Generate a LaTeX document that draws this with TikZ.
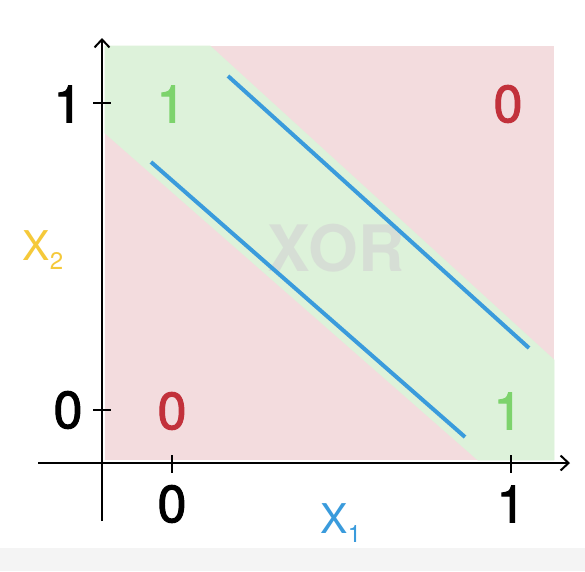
\documentclass[tikz,border=0pt]{standalone}
\usepackage{fontspec}
\setmainfont{TeX Gyre Heros}
\newfontfamily\digitfont[FakeBold=2]{TeX Gyre Heros}
\usetikzlibrary{arrows.meta}
\definecolor{bgpink}{HTML}{F3DCDE}
\definecolor{bggreen}{HTML}{DDF2DA}
\definecolor{lineblue}{HTML}{3A9BDC}
\definecolor{txtred}{HTML}{C2313B}
\definecolor{txtgreen}{HTML}{7DD36C}
\definecolor{txtyellow}{HTML}{F5C93A}
\definecolor{stripgray}{HTML}{F4F4F4}
\tikzset{
  axis/.style={line width=2pt, -{Straight Barb[length=8pt,width=15pt,line width=2pt]}},
  tick/.style={line width=2pt},
  bound/.style={lineblue, line width=4pt},
  biglbl/.style={font=\digitfont\fontsize{52}{52}\selectfont, inner sep=0pt},
  varlbl/.style={font=\fontsize{41}{41}\selectfont, inner sep=0pt},
}
\begin{document}
\begin{tikzpicture}[x=1pt,y=-1pt]
\useasboundingbox (0,0) rectangle (585,571);
\fill[white] (0,0) rectangle (585,571);
\fill[stripgray] (0,548) rectangle (585,571);
% regions
\fill[bgpink] (105,46) rectangle (554,460);
\filldraw[fill=bggreen, draw=bggreen, line width=0.8pt, line join=round] (105,46) -- (210,46) -- (554,360) -- (554,460) -- (478,460) -- (105,133) -- cycle;
% watermark
\node[font=\fontsize{64}{64}\selectfont\bfseries, text=gray!35, opacity=0.6, inner sep=0pt] (xor) at (336,248) {XOR};
% boundaries
\coordinate (la) at (151,162);
\coordinate (lb) at (465,437);
\coordinate (ua) at (228,76);
\coordinate (ub) at (529,348);
\draw[bound] (la) -- (lb);
\draw[bound] (ua) -- (ub);
% axes
\coordinate (xs) at (38,463);
\coordinate (xe) at (570,463);
\coordinate (ys) at (102,521);
\coordinate (ye) at (102,38);
\draw[axis] (xs) -- (xe);
\draw[axis] (ys) -- (ye);
% ticks
\draw[tick] (172,455) -- (172,473);
\draw[tick] (511,455) -- (511,473);
\draw[tick] (93,103) -- (111,103);
\draw[tick] (93,410) -- (111,410);
% tick labels
\node[biglbl] (y1) at (68,104) {1};
\node[biglbl] (y0) at (68,410) {0};
\node[biglbl] (x0) at (172,504) {0};
\node[biglbl] (x1) at (511,504) {1};
% outputs
\node[biglbl, text=txtgreen] (o01) at (171,104) {1};
\node[biglbl, text=txtred] (o11) at (508,104) {0};
\node[biglbl, text=txtred] (o00) at (172,411) {0};
\node[biglbl, text=txtgreen] (o10) at (508,411) {1};
% variable names
\node[varlbl, text=txtyellow] (vx2) at (43,250) {X\textsubscript{\fontsize{24}{24}\selectfont 2}};
\node[varlbl, text=lineblue] (vx1) at (341,523) {X\textsubscript{\fontsize{24}{24}\selectfont 1}};
\end{tikzpicture}
\end{document}
